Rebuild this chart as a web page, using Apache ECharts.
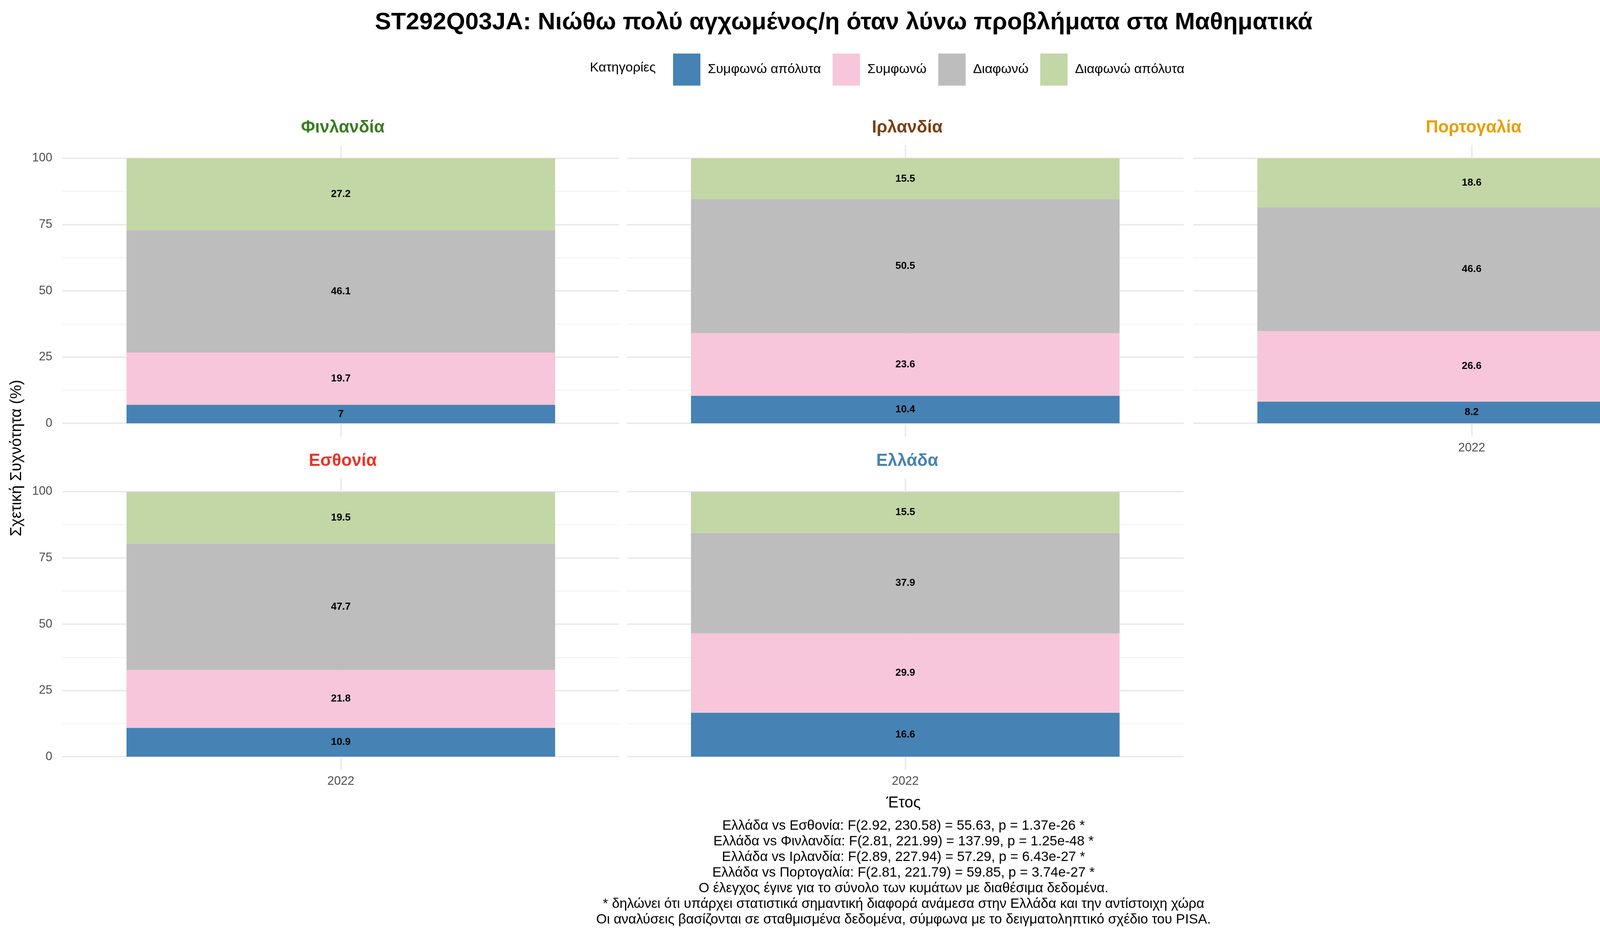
<!DOCTYPE html>
<html>
<head>
<meta charset="utf-8">
<script src="https://cdn.jsdelivr.net/npm/echarts@6/dist/echarts.min.js"></script>
<style>html,body{margin:0;padding:0;background:#fff}#chart{width:4500px;height:2400px}</style>
</head>
<body>
<div id="chart"></div>
<script>
// δεδομένα
var years = ['2022'];
var categories = ['Συμφωνώ απόλυτα', 'Συμφωνώ', 'Διαφωνώ', 'Διαφωνώ απόλυτα'];
var catColors = ['#4682b4', '#f7c6da', '#bdbdbd', '#c3d6a6'];
var countries = ['Φινλανδία', 'Ιρλανδία', 'Πορτογαλία', 'Εσθονία', 'Ελλάδα'];
var countryColors = ['#3a7d22', '#7b3f12', '#e69f00', '#e8342a', '#4682b4'];
var values = [
    [7, 19.7, 46.1, 27.2],
    [10.4, 23.6, 50.5, 15.5],
    [8.2, 26.6, 46.6, 18.6],
    [10.9, 21.8, 47.7, 19.5],
    [16.6, 29.9, 37.9, 15.5]
];
var yTicks = [0, 25, 50, 75, 100];
var yMinor = [12.5, 37.5, 62.5, 87.5];
var notes = [
    'Ελλάδα vs Εσθονία: F(2.92, 230.58) = 55.63, p = 1.37e-26 *',
    'Ελλάδα vs Φινλανδία: F(2.81, 221.99) = 137.99, p = 1.25e-48 *',
    'Ελλάδα vs Ιρλανδία: F(2.89, 227.94) = 57.29, p = 6.43e-27 *',
    'Ελλάδα vs Πορτογαλία: F(2.81, 221.79) = 59.85, p = 3.74e-27 *',
    'Ο έλεγχος έγινε για το σύνολο των κυμάτων με διαθέσιμα δεδομένα.',
    '* δηλώνει ότι υπάρχει στατιστικά σημαντική διαφορά ανάμεσα στην Ελλάδα και την αντίστοιχη χώρα',
    'Οι αναλύσεις βασίζονται σε σταθμισμένα δεδομένα, σύμφωνα με το δειγματοληπτικό σχέδιο του PISA.'
];

var font = 'Liberation Sans, Arial, sans-serif';
// θέσεις πάνελ (άξονας -5..105 όπως στο ggplot)
var colLeft = [160, 1605, 3055];
var panelW = 1425;
var rowTop = [371, 1224];
var panelH = 746;

var chart = echarts.init(document.getElementById('chart'));
var grids = [], xAxes = [], yAxes = [], series = [], titles = [];

countries.forEach(function (c, i) {
    var r = Math.floor(i / 3), col = i % 3;
    grids.push({left: colLeft[col], top: rowTop[r], width: panelW, height: panelH});
    var showX = (i >= 2);
    xAxes.push({
        type: 'category', gridIndex: i, data: years,
        axisLine: {show: false}, axisTick: {show: false},
        axisLabel: {show: showX, fontSize: 31, color: '#4d4d4d', fontFamily: font, margin: 14}
    });
    yAxes.push({
        type: 'value', gridIndex: i, min: -5, max: 105, interval: 5,
        axisLabel: {
            show: col === 0, fontSize: 31, color: '#4d4d4d', fontFamily: font, margin: 26,
            formatter: function (v) { return yTicks.indexOf(v) >= 0 ? String(v) : ''; }
        },
        splitLine: {show: false}
    });
    titles.push({
        text: c, left: colLeft[col] + panelW / 2, top: rowTop[r] - 71, textAlign: 'center',
        textStyle: {fontSize: 44, fontWeight: 'bold', color: countryColors[i], fontFamily: font}
    });
    var gridLines = [{xAxis: '2022', lineStyle: {color: '#ebebeb', width: 4}}];
    yTicks.forEach(function (t) { gridLines.push({yAxis: t, lineStyle: {color: '#ebebeb', width: 4}}); });
    yMinor.forEach(function (t) { gridLines.push({yAxis: t, lineStyle: {color: '#f3f3f3', width: 2.5}}); });
    categories.forEach(function (cat, k) {
        var s = {
            name: cat, type: 'bar', stack: 's' + i, xAxisIndex: i, yAxisIndex: i,
            data: [values[i][k]], barWidth: '77%', z: 3,
            itemStyle: {color: catColors[k]},
            label: {show: true, position: 'inside', color: '#000', fontWeight: 'bold', fontSize: 26, fontFamily: font},
            emphasis: {disabled: true}
        };
        if (k === 0) {
            s.markLine = {
                silent: true, symbol: 'none', label: {show: false}, z: 1, animation: false,
                lineStyle: {type: 'solid'},
                data: gridLines
            };
        }
        series.push(s);
    });
});

titles.push({
    text: 'ST292Q03JA: Νιώθω πολύ αγχωμένος/η όταν λύνω προβλήματα στα Μαθηματικά',
    left: 2155, top: 22, textAlign: 'center',
    textStyle: {fontSize: 62, fontWeight: 'bold', color: '#000', fontFamily: font}
});

var graphics = [
    {type: 'text', left: 1510, top: 157, style: {text: 'Κατηγορίες', fontSize: 34, fill: '#000', fontFamily: font}},
    {type: 'text', x: 43, y: 1172, rotation: Math.PI / 2, style: {text: 'Σχετική Συχνότητα (%)', fontSize: 40, fill: '#000', fontFamily: font, align: 'center', verticalAlign: 'middle'}},
    {type: 'text', x: 2313, y: 2055, style: {text: 'Έτος', fontSize: 40, fill: '#000', fontFamily: font, align: 'center', verticalAlign: 'middle'}},
    {type: 'text', x: 4280, y: 52, style: {text: 'PISA', fontSize: 52, fontWeight: 'bold', fill: '#f04a2a', fontFamily: font, verticalAlign: 'middle'}},
    {type: 'rect', shape: {x: 4390, y: 26, width: 44, height: 50, r: 8}, style: {fill: 'none', stroke: '#2e3f8f', lineWidth: 5}},
    {type: 'text', x: 4412, y: 52, style: {text: '4', fontSize: 44, fontWeight: 'bold', fill: '#1a5ea8', fontFamily: font, align: 'center', verticalAlign: 'middle'}},
    {type: 'text', x: 4444, y: 52, style: {text: 'U', fontSize: 54, fontWeight: 'bold', fill: '#44ab4a', fontFamily: font, verticalAlign: 'middle'}}
];
notes.forEach(function (n, j) {
    graphics.push({type: 'text', x: 2313, y: 2113 + j * 40, style: {text: n, fontSize: 35, fill: '#000', fontFamily: font, align: 'center', verticalAlign: 'middle'}});
});

chart.setOption({
    backgroundColor: '#fff',
    animation: false,
    title: titles,
    legend: {
        data: categories, left: 1718, top: 132, itemWidth: 70, itemHeight: 82, itemGap: 30,
        icon: 'rect', textStyle: {fontSize: 34, color: '#000', fontFamily: font, padding: [0, 0, 0, 14]}
    },
    grid: grids,
    xAxis: xAxes,
    yAxis: yAxes,
    series: series,
    graphic: graphics
});
</script>
</body>
</html>
